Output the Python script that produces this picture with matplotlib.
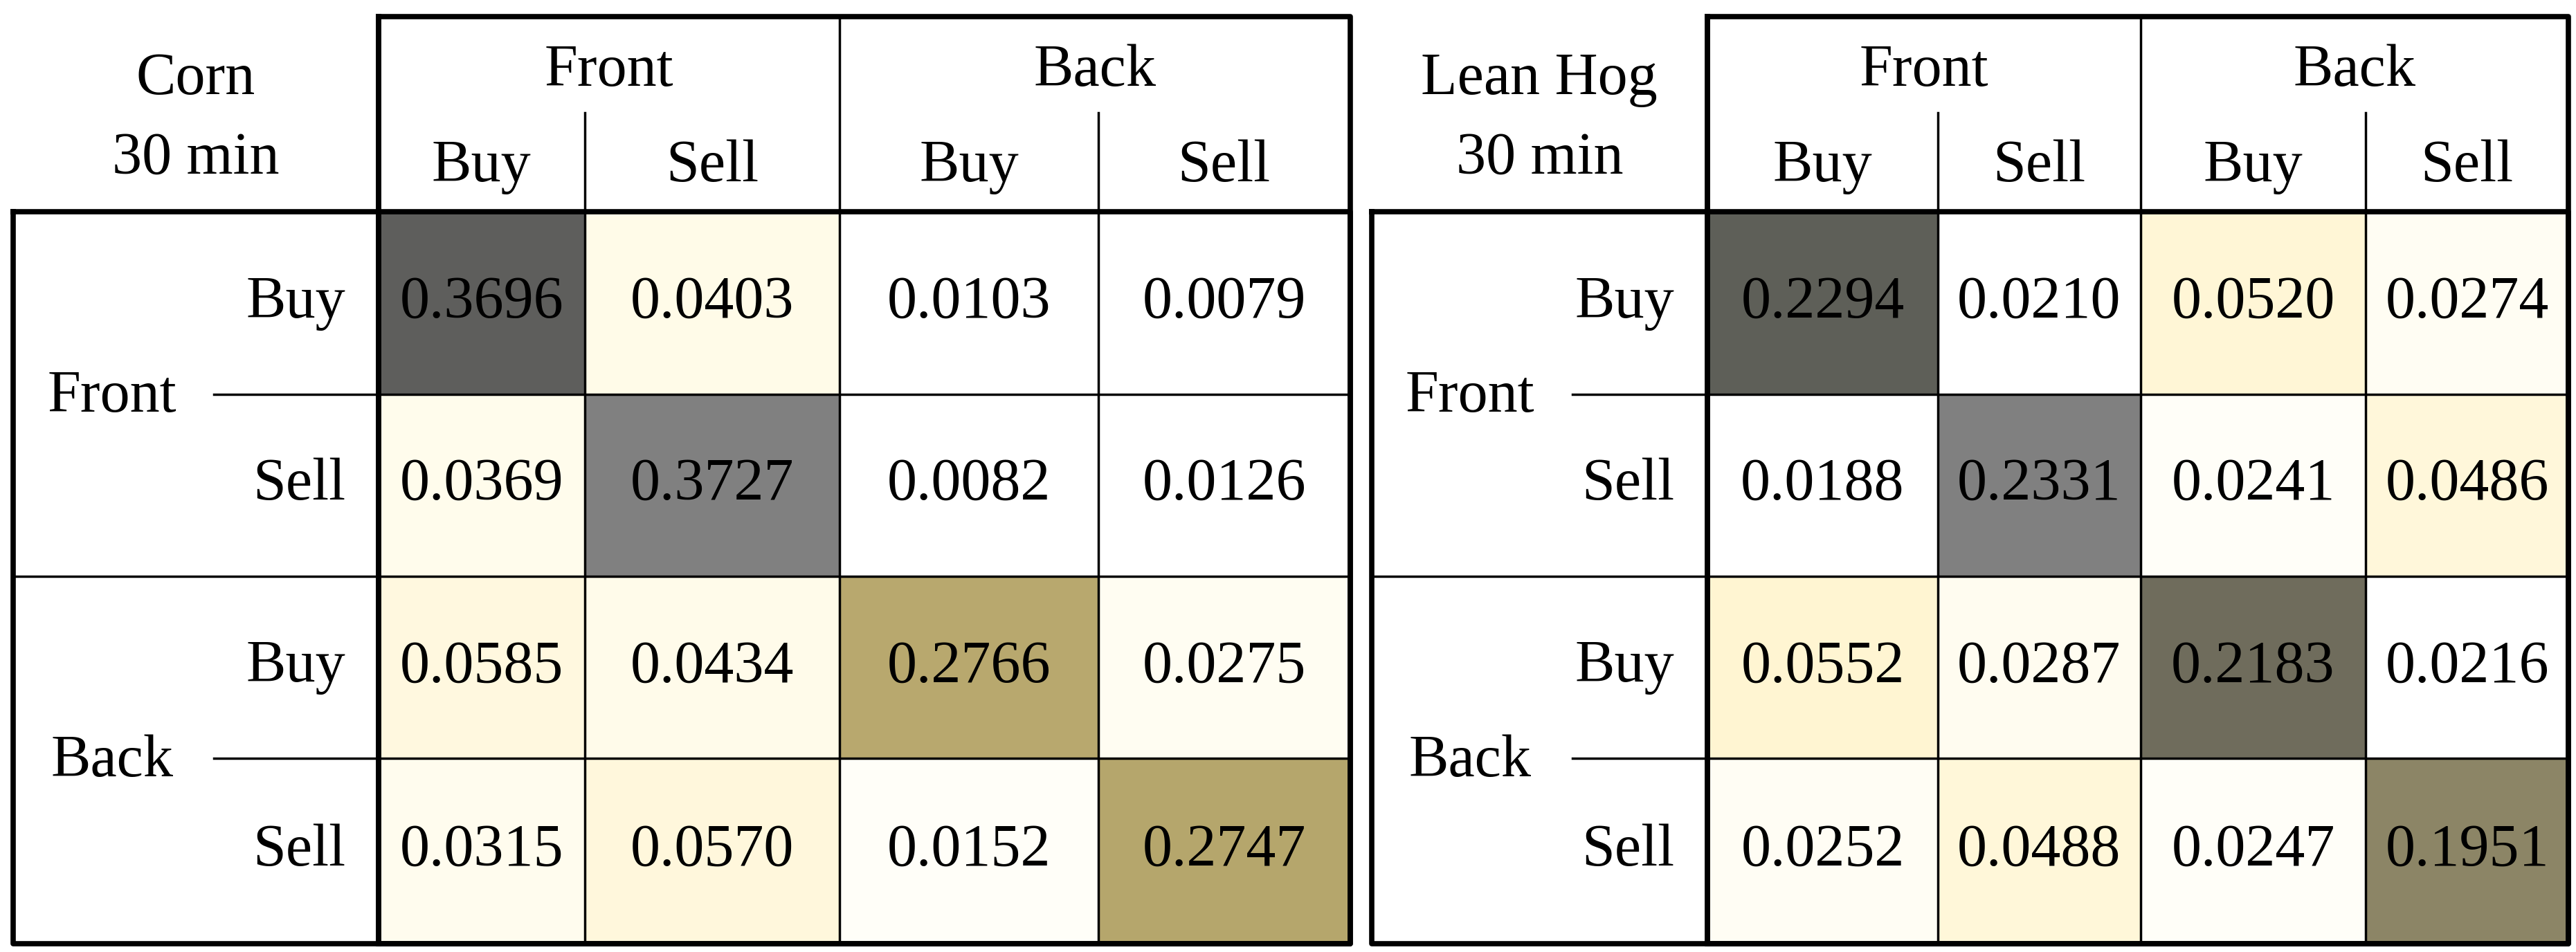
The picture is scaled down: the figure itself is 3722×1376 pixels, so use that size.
import matplotlib
matplotlib.use("Agg")
import matplotlib.pyplot as plt
from matplotlib.patches import Rectangle

titles = [["Corn", "30 min"], ["Lean Hog", "30 min"]]
groups = ["Front", "Back"]
subs = ["Buy", "Sell"]
corn = [[0.3696, 0.0403, 0.0103, 0.0079],
        [0.0369, 0.3727, 0.0082, 0.0126],
        [0.0585, 0.0434, 0.2766, 0.0275],
        [0.0315, 0.0570, 0.0152, 0.2747]]
hog = [[0.2294, 0.0210, 0.0520, 0.0274],
       [0.0188, 0.2331, 0.0241, 0.0486],
       [0.0552, 0.0287, 0.2183, 0.0216],
       [0.0252, 0.0488, 0.0247, 0.1951]]
corn_colors = [["#5e5e5c", "#fffbe8", "#ffffff", "#ffffff"],
               ["#fffcec", "#808080", "#ffffff", "#ffffff"],
               ["#fff8df", "#fffbea", "#b8a86e", "#fffdf2"],
               ["#fffcee", "#fff7dc", "#fffef8", "#b5a66c"]]
hog_colors = [["#5e5f58", "#ffffff", "#fff6d6", "#fffdf3"],
              ["#ffffff", "#808080", "#fffef8", "#fff7da"],
              ["#fff5d2", "#fffcf0", "#6f6c5c", "#ffffff"],
              ["#fffdf4", "#fff7d9", "#fffef8", "#8c8566"]]

S = 3723 / 1565
fig = plt.figure(figsize=(37.23, 13.76), dpi=100)
ax = fig.add_axes([0, 0, 1, 1])
ax.set_xlim(0, 1565); ax.set_ylim(575, 0); ax.axis("off")
FONT = "Liberation Serif"
FS = 62
THICK, THIN = 5.5, 2.5

def table(x0, cols, vals, colors, title):
    rows = [128, 238, 348, 458, 570]
    top, mid = 10, 68
    for i in range(4):
        for j in range(4):
            ax.add_patch(Rectangle((cols[j], rows[i]), cols[j+1]-cols[j], rows[i+1]-rows[i],
                                   facecolor=colors[i][j], edgecolor="none", zorder=1))
            ax.text((cols[j]+cols[j+1])/2, (rows[i]+rows[i+1])/2, f"{vals[i][j]:.4f}",
                    ha="center", va="center", fontsize=FS, family=FONT, zorder=3)
    k = dict(color="black", zorder=4, solid_capstyle="projecting")
    # outer frames
    ax.plot([cols[0], cols[4], cols[4], cols[0], cols[0]], [top, top, rows[4], rows[4], top], lw=THICK, **k)
    ax.plot([x0, cols[4], cols[4], x0, x0], [rows[0], rows[0], rows[4], rows[4], rows[0]], lw=THICK, **k)
    ax.plot([cols[0], cols[0]], [top, rows[4]], lw=THICK, **k)
    ax.plot([cols[2], cols[2]], [top, rows[4]], lw=THIN, **k)
    ax.plot([x0, cols[4]], [rows[2], rows[2]], lw=THIN, **k)
    for c in (cols[1], cols[3]):
        ax.plot([c, c], [mid, rows[4]], lw=THIN, **k)
    for r in (rows[1], rows[3]):
        ax.plot([x0 + 122, cols[4]], [r, r], lw=THIN, **k)
    for g in range(2):
        ax.text((cols[2*g]+cols[2*g+2])/2, 43, groups[g], ha="center", va="center", fontsize=FS, family=FONT)
        for s in range(2):
            ax.text((cols[2*g+s]+cols[2*g+s+1])/2, 101, subs[s], ha="center", va="center", fontsize=FS, family=FONT)
        ax.text(x0 + 60, rows[2*g+1] + 2, groups[g], ha="center", va="center", fontsize=FS, family=FONT, zorder=5)
        for s in range(2):
            ax.text(cols[0] - 20, (rows[2*g+s]+rows[2*g+s+1])/2, subs[s], ha="right", va="center", fontsize=FS, family=FONT)
    ax.text((x0 + cols[0])/2, 48, title[0], ha="center", va="center", fontsize=FS, family=FONT)
    ax.text((x0 + cols[0])/2, 96, title[1], ha="center", va="center", fontsize=FS, family=FONT)

table(8, [230, 355, 510, 667, 820], corn, corn_colors, titles[0])
table(833, [1037, 1177, 1300, 1437, 1560], hog, hog_colors, titles[1])
fig.savefig("out.png", dpi=100)
